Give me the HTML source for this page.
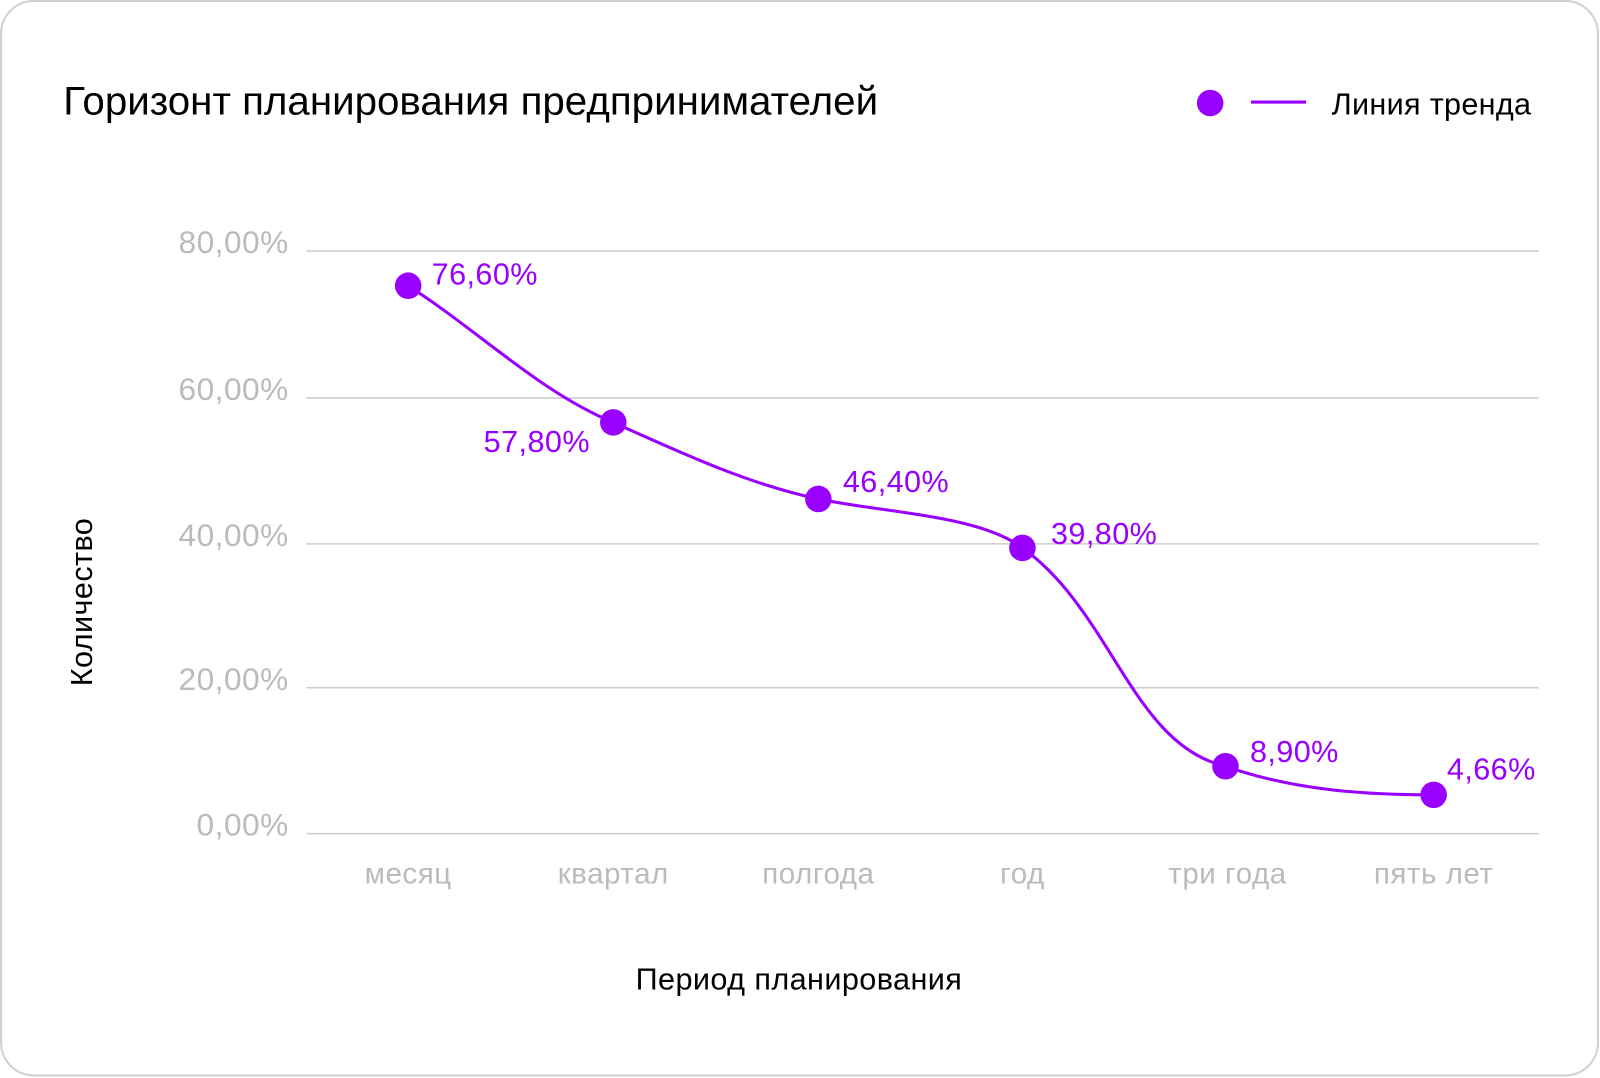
<!DOCTYPE html><html><head><meta charset="utf-8"><style>body{margin:0;background:#fff}</style></head><body>
<svg width="1600" height="1078" viewBox="0 0 1568 1056.5" xmlns="http://www.w3.org/2000/svg" font-family="Liberation Sans, DejaVu Sans, sans-serif" style="display:block">
<rect x="1" y="1" width="1565" height="1053" rx="32" fill="#fff" stroke="#d0d0d0" stroke-width="2"/>
<text x="62" y="112" font-size="39.5" fill="#000">Горизонт планирования предпринимателей</text>
<circle cx="1186" cy="101" r="13" fill="#9900ff"/>
<line x1="1226" y1="100" x2="1280" y2="100" stroke="#9900ff" stroke-width="3"/>
<text x="1305" y="112" font-size="30" fill="#000" letter-spacing="0.3">Линия тренда</text>
<g stroke="#cccccc" stroke-width="1.5">
<line x1="300" y1="246" x2="1508" y2="246"/><line x1="300" y1="390" x2="1508" y2="390"/><line x1="300" y1="533" x2="1508" y2="533"/><line x1="300" y1="674" x2="1508" y2="674"/><line x1="300" y1="817" x2="1508" y2="817"/>
</g>
<g font-size="31" fill="#bbbbbb" text-anchor="end" letter-spacing="0.5">
<text x="283" y="248">80,00%</text><text x="283" y="392">60,00%</text><text x="283" y="535">40,00%</text><text x="283" y="676">20,00%</text><text x="283" y="819">0,00%</text>
</g>
<g font-size="29" fill="#bbbbbb" text-anchor="middle" letter-spacing="0.5">
<text x="400" y="866">месяц</text><text x="601" y="866">квартал</text><text x="802" y="866">полгода</text><text x="1002" y="866">год</text><text x="1203" y="866">три года</text><text x="1405" y="866">пять лет</text>
</g>
<text x="783" y="970" font-size="30" fill="#000" text-anchor="middle" letter-spacing="0.4">Период планирования</text>
<text transform="translate(90,590) rotate(-90)" font-size="30" fill="#000" text-anchor="middle" letter-spacing="0.4">Количество</text>
<path d="M400,280 C470,325 530,385 601,414 C670,445 735,475 802,489 C870,503 960,505 1002,537 C1090,600 1110,730 1201,751 C1270,775 1340,779 1405,779" fill="none" stroke="#9900ff" stroke-width="3"/>
<g fill="#9900ff">
<circle cx="400" cy="280" r="13"/><circle cx="601" cy="414" r="13"/><circle cx="802" cy="489" r="13"/><circle cx="1002" cy="537" r="13"/><circle cx="1201" cy="751" r="13"/><circle cx="1405" cy="779" r="13"/>
</g>
<g font-size="30" fill="#9900ff" letter-spacing="0.4">
<text x="423" y="279">76,60%</text><text x="474" y="443">57,80%</text><text x="826" y="482">46,40%</text><text x="1030" y="533">39,80%</text><text x="1225" y="747">8,90%</text><text x="1418" y="764">4,66%</text>
</g>
</svg>
</body></html>
